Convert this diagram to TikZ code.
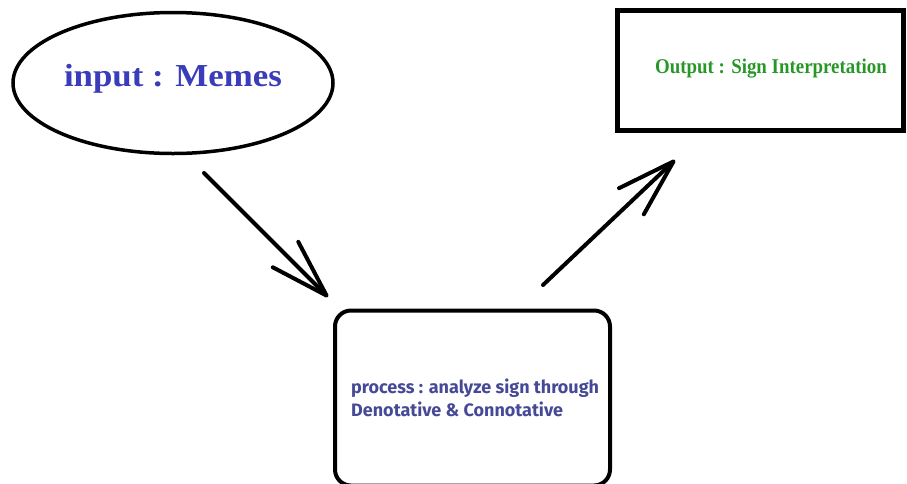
\documentclass[tikz,border=0pt]{standalone}
\usepackage{fontspec}
\setmainfont{Liberation Serif}
\newfontfamily\procfont{Fira Sans}
\usetikzlibrary{arrows.meta,shapes.geometric}
\definecolor{memeblue}{RGB}{58,60,185}
\definecolor{outgreen}{RGB}{40,150,40}
\definecolor{procblue}{RGB}{70,74,150}
\tikzset{
  conn/.style={line width=4pt, line cap=round, line join=round,
    -{Straight Barb[length=58pt,width=36pt,line cap=round,line join=round]}},
}
\begin{document}
\begin{tikzpicture}[x=1pt,y=-1pt]
\useasboundingbox (0,0) rectangle (907,483);
\node[ellipse, draw, line width=3.5pt, minimum width=320pt, minimum height=141pt, inner sep=0pt] (in) at (173,83) {};
\node[text=memeblue, font=\bfseries\fontsize{32}{34}\selectfont] (intext) at (173,79) {\scalebox{1.09}[1]{input : Memes}};
\node[draw, line width=5pt, minimum width=286pt, minimum height=120pt, inner sep=0pt] (out) at (760,70) {};
\node[text=outgreen, font=\bfseries\fontsize{21}{24}\selectfont] (outtext) at (771,69) {\scalebox{0.9}[1]{Output : Sign Interpretation}};
\node[draw, line width=4pt, rounded corners=16pt, minimum width=275pt, minimum height=175pt, inner sep=0pt] (proc) at (472.5,398) {};
\node[text=procblue, font=\procfont\bfseries\fontsize{18}{23}\selectfont, align=left, anchor=west, inner sep=0pt] (proctext) at (351,398) {process : analyze sign through\\Denotative \& Connotative};
\coordinate (a1s) at (204,173);
\coordinate (a1e) at (328,297);
\coordinate (a2s) at (543,285);
\coordinate (a2e) at (675,160);
\draw[conn] (a1s) -- (a1e);
\draw[conn] (a2s) -- (a2e);
\end{tikzpicture}
\end{document}
